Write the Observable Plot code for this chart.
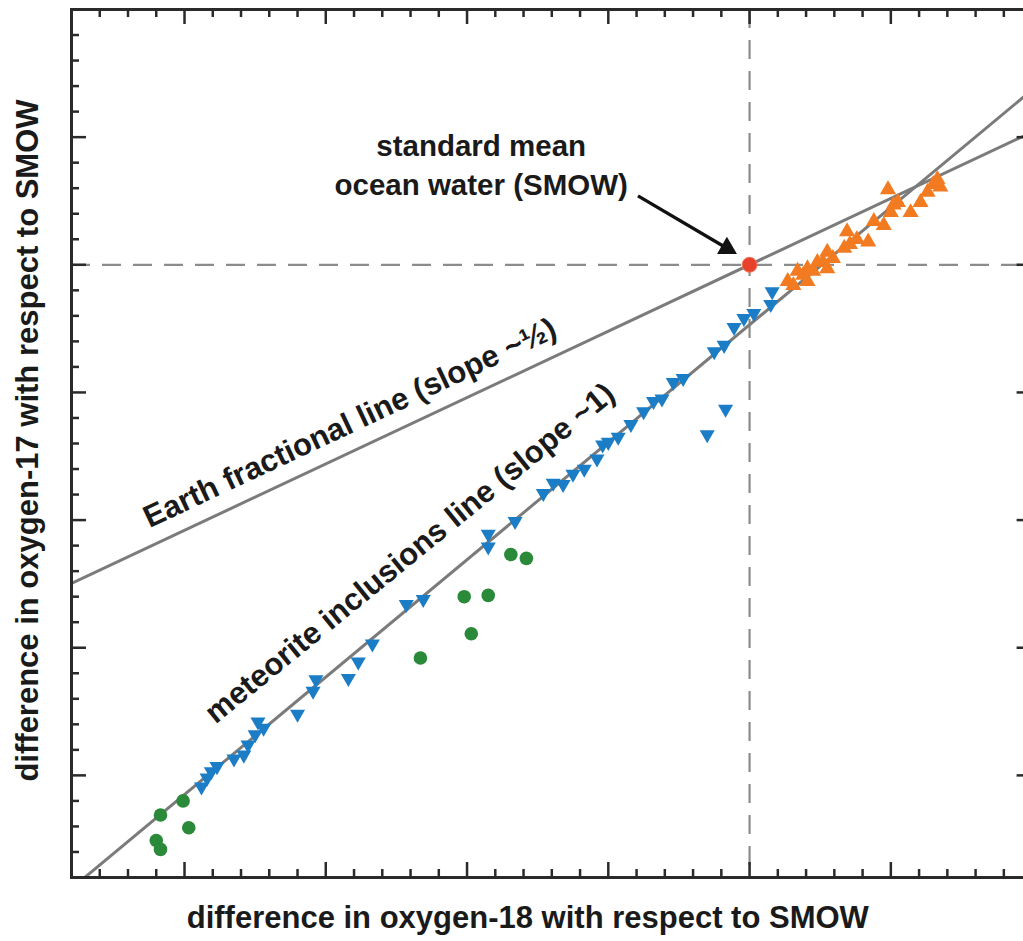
<!DOCTYPE html>
<html>
<head>
<meta charset="utf-8">
<script src="https://cdn.jsdelivr.net/npm/d3@7"></script>
<script src="https://cdn.jsdelivr.net/npm/@observablehq/plot@0.6"></script>
<style>
  html, body { margin: 0; padding: 0; background: #fff; overflow: hidden; }
  #chart svg { display: block; }
</style>
</head>
<body>
<div id="chart"></div>
<script>
// ---- data (δ18O, δ17O relative to SMOW, ‰) ----
const meteoriteX = [-38.8,-38.4,-38.1,-37.7,-36.5,-35.8,-35.5,-35.0,-34.4,-34.8,-32.0,-30.9,-30.7,-28.4,-27.7,-26.7,-24.3,-23.1,-18.5,-18.5,-16.6,-14.6,-13.9,-13.2,-12.5,-11.7,-10.8,-10.4,-10.0,-9.3,-8.4,-7.5,-6.8,-6.2,-5.4,-4.7,-2.5,-1.8,-1.1,-0.4,0.3,1.5,1.6,-3.0,-1.7];
const meteoriteY = [-40.9,-40.2,-39.7,-39.3,-38.7,-38.4,-37.6,-36.8,-36.3,-35.8,-35.2,-33.4,-32.5,-32.4,-31.1,-29.7,-26.6,-26.2,-21.1,-22.1,-20.1,-17.9,-17.1,-17.2,-16.4,-16.0,-15.2,-14.1,-13.9,-13.5,-12.5,-11.5,-10.7,-10.5,-9.2,-8.9,-6.8,-6.3,-4.9,-4.2,-3.8,-3.1,-2.1,-13.3,-11.3];

const earthX = [2.7,3.1,3.4,3.8,4.1,4.1,4.5,4.8,5.2,5.5,5.5,5.9,6.7,6.9,7.1,7.6,8.4,8.8,9.5,9.8,10.0,10.2,10.5,11.4,12.1,12.6,13.0,13.3,13.5];
const earthY = [-1.3,-1.6,-0.5,-0.8,-1.3,-0.3,-0.5,0.2,0.2,1.0,-0.3,0.5,1.3,2.6,1.6,2.0,1.8,3.4,3.1,5.9,4.1,4.7,4.9,4.1,4.9,5.7,6.3,6.7,6.1];

const greenX = [-41.7,-40.1,-39.7,-42.0,-41.7,-23.3,-19.7,-20.2,-18.5,-16.9,-15.8];
const greenY = [-43.1,-42.0,-44.1,-45.1,-45.8,-30.8,-28.9,-26.0,-25.9,-22.7,-23.0];

const smowX = [0];
const smowY = [0];

// reference lines: slope and intercept
const lineNames = ["Earth fractional line (slope ~½)", "meteorite inclusions line (slope ~1)"];
const lineSlopes = [0.52, 0.92];
const lineIntercepts = [0, -4.7];

// axis ticks (no labels)
const xMajorTicks = [-40, -30, -20, -10, 0, 10, 20];
const xMinorTicks = [-48,-46,-44,-42,-38,-36,-34,-32,-28,-26,-24,-22,-18,-16,-14,-12,-8,-6,-4,-2,2,4,6,8,12,14,16,18];
const yMajorTicks = [-40, -30, -20, -10, 0, 10, 20];
const yMinorTicks = [-48,-46,-44,-42,-38,-36,-34,-32,-28,-26,-24,-22,-18,-16,-14,-12,-8,-6,-4,-2,2,4,6,8,12,14,16,18];

const xLabel = "difference in oxygen-18 with respect to SMOW";
const yLabel = "difference in oxygen-17 with respect to SMOW";
const smowLabel = "standard mean\nocean water (SMOW)";

// ---- build tables ----
const xDomain = [-48, 20];
const yDomain = [-48, 20];
const meteorite = meteoriteX.map((x, i) => ({x, y: meteoriteY[i]}));
const earth = earthX.map((x, i) => ({x, y: earthY[i]}));
const green = greenX.map((x, i) => ({x, y: greenY[i]}));
const smow = smowX.map((x, i) => ({x, y: smowY[i]}));
const lineSegs = lineNames.flatMap((name, i) =>
  xDomain.map(x => ({name, x, y: lineSlopes[i] * x + lineIntercepts[i]})));

// ---- layout ----
const W = 1023, H = 941;
const mL = 71, mT = 9, mB = 64, mR = -8.6;
const frameW = W - mL - mR, frameH = H - mT - mB;
const font = "'Liberation Sans', Arial, Helvetica, sans-serif";
const ink = "#2a2a2a";
const textInk = "#1a1a1a";
const majorLen = 15, minorLen = 8;

const tickStyle = {stroke: ink, strokeWidth: 2.5};

const chart = Plot.plot({
  width: W,
  height: H,
  marginLeft: mL,
  marginRight: mR,
  marginTop: mT,
  marginBottom: mB,
  style: {fontFamily: font, background: "#fff", overflow: "hidden"},
  x: {domain: xDomain, axis: null},
  y: {domain: yDomain, axis: null},
  marks: [
    // dashed SMOW reference
    Plot.ruleX([0], {x: d => d, stroke: "#8c8c8c", strokeWidth: 2.2, strokeDasharray: "19,12"}),
    Plot.ruleY([0], {y: d => d, stroke: "#8c8c8c", strokeWidth: 2.2, strokeDasharray: "19,12"}),
    // fractionation lines
    Plot.line(lineSegs, {x: "x", y: "y", z: "name", stroke: "#7b7b7b", strokeWidth: 3, clip: true}),
    // ticks (inward, all four sides)
    Plot.ruleX(xMajorTicks, {x: d => d, insetTop: frameH - majorLen, ...tickStyle}),
    Plot.ruleX(xMinorTicks, {x: d => d, insetTop: frameH - minorLen, ...tickStyle}),
    Plot.ruleX(xMajorTicks, {x: d => d, insetBottom: frameH - majorLen, ...tickStyle}),
    Plot.ruleX(xMinorTicks, {x: d => d, insetBottom: frameH - minorLen, ...tickStyle}),
    Plot.ruleY(yMajorTicks, {y: d => d, insetRight: frameW - majorLen, ...tickStyle}),
    Plot.ruleY(yMinorTicks, {y: d => d, insetRight: frameW - minorLen, ...tickStyle}),
    Plot.ruleY(yMajorTicks, {y: d => d, insetLeft: frameW - majorLen, ...tickStyle}),
    Plot.ruleY(yMinorTicks, {y: d => d, insetLeft: frameW - minorLen, ...tickStyle}),
    // data
    Plot.dot(green, {x: "x", y: "y", r: 6.8, fill: "#2b8a3a", stroke: null}),
    Plot.dot(meteorite, {x: "x", y: "y", symbol: "triangle", rotate: 180, r: 5.6, fill: "#1b7dc6", stroke: null}),
    Plot.dot(earth, {x: "x", y: "y", symbol: "triangle", r: 6.0, fill: "#f27b22", stroke: null}),
    Plot.dot(smow, {x: "x", y: "y", r: 7.5, fill: "#e8412b", stroke: "#f47a5a", strokeWidth: 1}),
    // arrow to SMOW
    Plot.link([{x1: -7.9, y1: 5.4, x2: -1.6, y2: 1.3}], {x1: "x1", y1: "y1", x2: "x2", y2: "y2", stroke: "#111", strokeWidth: 3.4}),
    Plot.dot([{x: -1.6, y: 1.3}], {x: "x", y: "y", symbol: "triangle", rotate: 119.6, r: 7.4, fill: "#111", stroke: null}),
    // annotations
    Plot.text([smowLabel], {x: () => -19.0, y: () => 8.0, text: d => d, fontSize: 29.5, fontWeight: 700, fill: textInk, lineHeight: 1.35, textAnchor: "middle"}),
    Plot.text([lineNames[0]], {x: () => -28.0, y: () => -13.1, text: d => d, rotate: -25.2, lineAnchor: "bottom", fontSize: 31, fontWeight: 700, fill: textInk}),
    Plot.text([lineNames[1]], {x: () => -23.6, y: () => -23.2, text: d => d, rotate: -39.2, lineAnchor: "bottom", fontSize: 31, fontWeight: 700, fill: textInk}),
    // axis titles
    Plot.text([xLabel], {frameAnchor: "bottom", text: d => d, textAnchor: "middle", dx: -24, dy: 50, fontSize: 31, fontWeight: 700, fill: textInk}),
    Plot.text([yLabel], {frameAnchor: "left", text: d => d, textAnchor: "middle", rotate: -90, dx: -43, dy: -3, fontSize: 31, fontWeight: 700, fill: textInk}),
    // frame
    Plot.frame({stroke: ink, strokeWidth: 3})
  ]
});
document.getElementById("chart").appendChild(chart);
</script>
</body>
</html>
